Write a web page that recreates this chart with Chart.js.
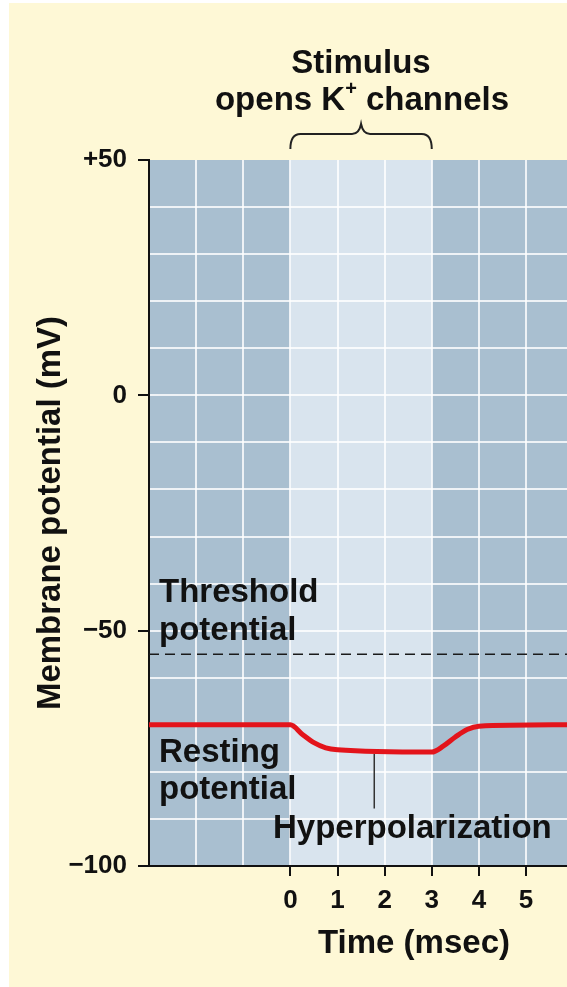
<!DOCTYPE html>
<html>
<head>
<meta charset="utf-8">
<title>Hyperpolarization</title>
<script src="https://cdn.jsdelivr.net/npm/chart.js@4.4.1/dist/chart.umd.min.js"></script>
<style>
  html, body { margin: 0; padding: 0; background: #ffffff; }
  canvas { display: block; }
</style>
</head>
<body>
<canvas id="potentialChart" width="567" height="987"></canvas>
<script>
// membrane potential trace (time in msec, potential in mV)
const timeMs = [-3, 0, 0.25, 0.5, 0.75, 1.0, 3.0, 3.25, 3.5, 3.75, 4.0, 5.87];
const potentialMv = [-70, -70, -72, -73.8, -74.9, -75.3, -75.8, -74.5, -72.6, -71.0, -70.3, -70];

// dashed threshold line
const thresholdTime = [-3, 5.87];
const thresholdMv = [-55, -55];

// pointer for the hyperpolarization label
const pointerTime = [1.78, 1.78];
const pointerMv = [-76.2, -87.8];

// stimulus window (K+ channels open)
const stimulusWindow = [0, 3];

// tick labels
const yLabelValues = [50, 0, -50, -100];
const yLabelTexts = ['+50', '0', '\u221250', '\u2212100'];
const xLabelValues = [0, 1, 2, 3, 4, 5];
const xLabelTexts = ['0', '1', '2', '3', '4', '5'];

const FONT = '"Liberation Sans", Arial, Helvetica, sans-serif';
const CREAM = '#fef8d6';
const DARK = '#a9bfd0';
const LIGHT = '#d9e4ee';
const GRID = 'rgba(255, 255, 255, 0.8)';
const INK = '#111111';

const toPoints = (xs, ys) => xs.map((x, i) => ({ x: x, y: ys[i] }));

// background, shaded bands behind the grid
const backdrop = {
    id: 'backdrop',
    beforeDraw(chart) {
        const { ctx, chartArea: a, scales } = chart;
        ctx.save();
        ctx.fillStyle = '#ffffff';
        ctx.fillRect(0, 0, chart.width, chart.height);
        ctx.fillStyle = CREAM;
        ctx.fillRect(9, 3, chart.width - 9, chart.height - 3);
        ctx.fillStyle = DARK;
        ctx.fillRect(a.left, a.top, a.right - a.left, a.bottom - a.top);
        const x0 = scales.x.getPixelForValue(stimulusWindow[0]);
        const x1 = scales.x.getPixelForValue(stimulusWindow[1]);
        ctx.fillStyle = LIGHT;
        ctx.fillRect(x0, a.top, x1 - x0, a.bottom - a.top);
        ctx.restore();
    }
};

// text labels and the brace
const labels = {
    id: 'labels',
    afterDraw(chart) {
        const { ctx, scales } = chart;
        ctx.save();
        ctx.fillStyle = INK;
        ctx.textBaseline = 'alphabetic';
        ctx.font = 'bold 33px ' + FONT;

        ctx.textAlign = 'center';
        ctx.fillText('Stimulus', 361, 73);

        // "opens K+ channels" with superscript plus
        const partA = 'opens K';
        const partB = ' channels';
        ctx.textAlign = 'left';
        const wA = ctx.measureText(partA).width;
        const wB = ctx.measureText(partB).width;
        ctx.font = 'bold 20px ' + FONT;
        const wP = ctx.measureText('+').width;
        const startX = 362 - (wA + wP + wB) / 2;
        ctx.font = 'bold 33px ' + FONT;
        ctx.fillText(partA, startX, 110);
        ctx.fillText(partB, startX + wA + wP, 110);
        ctx.font = 'bold 20px ' + FONT;
        ctx.fillText('+', startX + wA, 95);

        ctx.font = 'bold 33px ' + FONT;
        ctx.fillText('Threshold', 159, 602);
        ctx.fillText('potential', 159, 640);
        ctx.fillText('Resting', 159, 762);
        ctx.fillText('potential', 159, 799);
        ctx.fillText('Hyperpolarization', 273, 838);

        ctx.textAlign = 'center';
        ctx.fillText('Time (msec)', 414, 953);

        // brace over the stimulus window
        const bx0 = scales.x.getPixelForValue(stimulusWindow[0]);
        const bx1 = scales.x.getPixelForValue(stimulusWindow[1]);
        const mid = (bx0 + bx1) / 2;
        ctx.strokeStyle = '#222222';
        ctx.lineWidth = 2;
        ctx.beginPath();
        ctx.moveTo(bx0, 149);
        ctx.quadraticCurveTo(bx0, 134, bx0 + 10, 134);
        ctx.lineTo(mid - 9, 134);
        ctx.quadraticCurveTo(mid - 2, 134, mid, 124);
        ctx.quadraticCurveTo(mid + 2, 134, mid + 9, 134);
        ctx.lineTo(bx1 - 10, 134);
        ctx.quadraticCurveTo(bx1, 134, bx1, 149);
        ctx.stroke();
        ctx.restore();
    }
};

const ctx = document.getElementById('potentialChart').getContext('2d');

const potentialChart = new Chart(ctx, {
    type: 'line',
    data: {
        datasets: [
            {
                label: 'Membrane potential',
                data: toPoints(timeMs, potentialMv),
                borderColor: '#e3141b',
                borderWidth: 5,
                pointRadius: 0,
                cubicInterpolationMode: 'monotone',
                borderJoinStyle: 'round'
            },
            {
                label: 'Threshold',
                data: toPoints(thresholdTime, thresholdMv),
                borderColor: '#1a1a1a',
                borderWidth: 1.6,
                borderDash: [10, 6],
                pointRadius: 0
            },
            {
                label: 'Pointer',
                data: toPoints(pointerTime, pointerMv),
                borderColor: '#333333',
                borderWidth: 1.5,
                pointRadius: 0
            }
        ]
    },
    options: {
        responsive: false,
        animation: false,
        layout: { padding: { top: 160, left: 0, right: 0, bottom: 0 } },
        plugins: {
            legend: { display: false },
            tooltip: { enabled: false }
        },
        scales: {
            x: {
                type: 'linear',
                min: -3,
                max: 5.87,
                afterFit: (scale) => { scale.height = 121; },
                border: { color: INK, width: 2 },
                grid: {
                    color: GRID,
                    lineWidth: 2,
                    tickLength: 10,
                    tickWidth: 2,
                    tickColor: (c) => xLabelValues.includes(c.tick.value) ? INK : 'rgba(0,0,0,0)'
                },
                ticks: {
                    stepSize: 1,
                    includeBounds: false,
                    autoSkip: false,
                    maxRotation: 0,
                    padding: 9,
                    color: INK,
                    font: { family: FONT, size: 26, weight: 'bold' },
                    callback: (v) => {
                        const i = xLabelValues.indexOf(v);
                        return i >= 0 ? xLabelTexts[i] : '';
                    }
                }
            },
            y: {
                min: -100,
                max: 50,
                afterFit: (scale) => { scale.width = 149; },
                border: { color: INK, width: 2 },
                grid: {
                    color: (c) => c.tick.value === 50 ? 'rgba(0,0,0,0)' : GRID,
                    lineWidth: 2,
                    tickLength: 11,
                    tickWidth: 2,
                    tickColor: (c) => yLabelValues.includes(c.tick.value) ? INK : 'rgba(0,0,0,0)'
                },
                ticks: {
                    stepSize: 10,
                    autoSkip: false,
                    padding: 11,
                    color: INK,
                    font: { family: FONT, size: 26, weight: 'bold' },
                    callback: (v) => {
                        const i = yLabelValues.indexOf(v);
                        return i >= 0 ? yLabelTexts[i] : '';
                    }
                },
                title: {
                    display: true,
                    text: 'Membrane potential (mV)',
                    color: INK,
                    font: { family: FONT, size: 33, weight: 'bold' },
                    padding: { top: 31, bottom: 0 }
                }
            }
        }
    },
    plugins: [backdrop, labels]
});
</script>
</body>
</html>
